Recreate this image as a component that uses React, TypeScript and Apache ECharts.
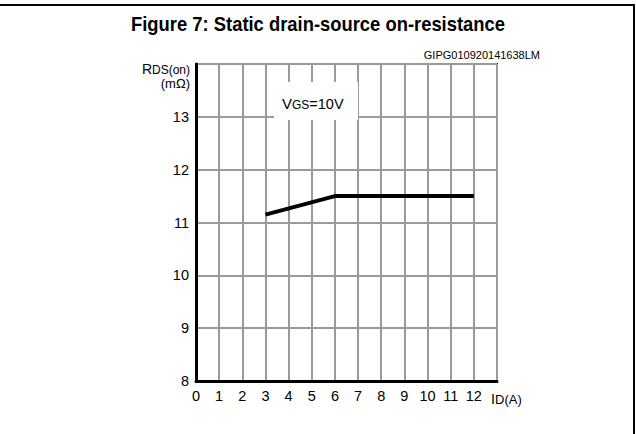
import React, { useEffect, useRef } from "react";
import * as echarts from "echarts";

const currentA = [3, 6, 12];
const resistanceMOhm = [11.15, 11.5, 11.5];
const xTicks = [0, 1, 2, 3, 4, 5, 6, 7, 8, 9, 10, 11, 12];
const yTicks = [8, 9, 10, 11, 12, 13];

const FONT = "'Liberation Sans', Arial, sans-serif";

export default function App() {
  const ref = useRef<HTMLDivElement>(null);
  useEffect(() => {
    document.body.style.margin = "0";
    const chart = echarts.init(ref.current!, null, { renderer: "svg" });
    const data = currentA.map((x, i) => [x, resistanceMOhm[i]]);
    const tok = (size: number) => ({
      fontSize: size,
      fontFamily: FONT,
      fill: "#000",
      color: "#000",
      verticalAlign: "bottom",
      lineHeight: 16,
    });
    chart.setOption({
      animation: false,
      backgroundColor: "#fff",
      textStyle: { fontFamily: FONT },
      grid: {
        left: 196,
        right: 139,
        top: 64,
        bottom: 53,
        show: true,
        borderColor: "#000",
        borderWidth: 2,
        backgroundColor: "transparent",
      },
      xAxis: {
        type: "value",
        min: 0,
        max: 13,
        interval: 1,
        axisLine: { show: true, lineStyle: { color: "#000", width: 3 } },
        axisTick: { show: false },
        splitLine: { show: true, lineStyle: { color: "#9a9a9a", width: 2 } },
        axisLabel: {
          margin: 7,
          fontSize: 14.5,
          color: "#000",
          fontFamily: FONT,
          formatter: (v: number) => (xTicks.includes(v) ? String(v) : ""),
        },
      },
      yAxis: {
        type: "value",
        min: 8,
        max: 14,
        interval: 1,
        axisLine: { show: true, lineStyle: { color: "#000", width: 3 } },
        axisTick: { show: false },
        splitLine: { show: true, lineStyle: { color: "#9a9a9a", width: 2 } },
        axisLabel: {
          margin: 7,
          fontSize: 14.5,
          color: "#000",
          fontFamily: FONT,
          formatter: (v: number) => (yTicks.includes(v) ? String(v) : ""),
        },
      },
      series: [
        {
          type: "line",
          data,
          showSymbol: false,
          lineStyle: { color: "#000", width: 4 },
          z: 5,
        },
      ],
      graphic: [
        {
          type: "line",
          shape: { x1: 0, y1: 5, x2: 635, y2: 5 },
          style: { stroke: "#000", lineWidth: 2 },
        },
        {
          type: "line",
          shape: { x1: 634, y1: 4, x2: 634, y2: 434 },
          style: { stroke: "#000", lineWidth: 2 },
        },
        {
          type: "text",
          x: 318,
          y: 24,
          scaleX: 0.92,
          style: {
            text: "Figure 7: Static drain-source on-resistance",
            font: `bold 20px ${FONT}`,
            fill: "#000",
            align: "center",
            verticalAlign: "middle",
          },
        },
        {
          type: "text",
          x: 540,
          y: 55,
          style: {
            text: "GIPG010920141638LM",
            font: `11px ${FONT}`,
            fill: "#000",
            align: "right",
            verticalAlign: "middle",
          },
        },
        {
          type: "text",
          x: 190,
          y: 68,
          style: {
            text: "{r|R}{s|DS(on)}",
            align: "right",
            verticalAlign: "middle",
            rich: { r: tok(14), s: tok(12) },
          },
        },
        {
          type: "text",
          x: 190,
          y: 83,
          style: {
            text: "(mΩ)",
            font: `13px ${FONT}`,
            fill: "#000",
            align: "right",
            verticalAlign: "middle",
          },
        },
        {
          type: "rect",
          z: 10,
          shape: { x: 274, y: 82, width: 84, height: 38 },
          style: { fill: "#fff" },
        },
        {
          type: "text",
          z: 11,
          x: 282,
          y: 103,
          style: {
            text: "{v|V}{s|GS}{n|=10V}",
            verticalAlign: "middle",
            rich: { v: tok(15), s: tok(12), n: tok(14.5) },
          },
        },
        {
          type: "text",
          x: 491,
          y: 398,
          style: {
            text: "{i|I}{s|D(A)}",
            verticalAlign: "middle",
            rich: { i: tok(14.5), s: tok(13) },
          },
        },
      ],
    });
    return () => chart.dispose();
  }, []);
  return <div ref={ref} style={{ width: 636, height: 434 }} />;
}
